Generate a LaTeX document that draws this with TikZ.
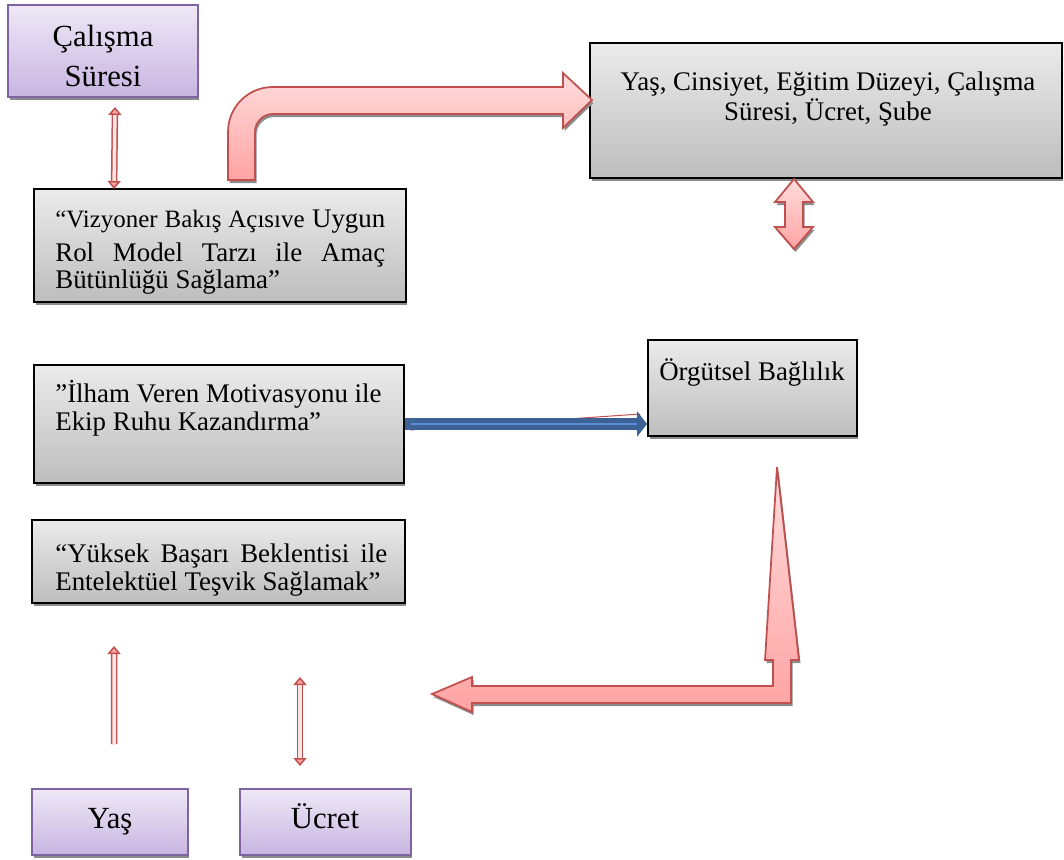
\documentclass[tikz,border=0pt]{standalone}
\usepackage{fontspec}
\setmainfont{Liberation Serif}
\usetikzlibrary{shadows,calc,arrows.meta}
\definecolor{arrowRed}{HTML}{C0504D}
\definecolor{pinkTop}{HTML}{FFDCDC}
\definecolor{pinkBot}{HTML}{FFA3A3}
\definecolor{pinkIn}{HTML}{FFE4E4}
\definecolor{grayTop}{HTML}{EBEBEB}
\definecolor{grayBot}{HTML}{BDBDBD}
\definecolor{purpleTop}{HTML}{EEE8F6}
\definecolor{purpleBot}{HTML}{C8B5E1}
\definecolor{purpleLine}{HTML}{8064A2}
\definecolor{shadowGray}{HTML}{8C8C8C}
\definecolor{blueFill}{HTML}{3D6396}
\definecolor{blueMid}{HTML}{5B8BD0}
\begin{document}
\begin{tikzpicture}[x=0.02cm,y=-0.02cm,
  shadowed/.style={drop shadow={shadow xshift=0.03cm, shadow yshift=-0.06cm, fill=shadowGray, opacity=1}},
  graybox/.style={rectangle, draw=black, line width=0.04cm, top color=grayTop, bottom color=grayBot, shadowed, inner sep=0pt},
  purplebox/.style={rectangle, draw=purpleLine, line width=0.04cm, top color=purpleTop, bottom color=purpleBot, shadowed, inner sep=0pt},
  txt/.style={inner sep=0pt, font=\fontsize{15.3}{18}\selectfont},
  bigtxt/.style={inner sep=0pt, font=\fontsize{17.5}{21}\selectfont, anchor=base},
  fatred/.style={draw=arrowRed, line width=0.035cm, line join=miter, top color=pinkTop, bottom color=pinkBot, shadowed},
  thinarrow/.style={draw=arrowRed, line width=0.03cm, double=pinkIn, double distance=0.07cm},
  thinhead/.tip={Triangle[length=0.16cm, width=0.26cm, fill=pinkBot, line width=0.03cm]},
  bluearrow/.style={draw=blueFill, line width=0.24cm, -{Triangle[length=0.2cm, width=0.5cm]}}
]
\useasboundingbox (0,0) rectangle (1064,859);

% ---------- boxes ----------
\node[purplebox, minimum width=3.8cm, minimum height=1.84cm] (cal) at (103,51) {};
\node[graybox, minimum width=9.44cm, minimum height=2.7cm] (dem) at (826,110.5) {};
\node[graybox, minimum width=7.44cm, minimum height=2.26cm] (viz) at (220,245.5) {};
\node[graybox, minimum width=7.4cm, minimum height=2.36cm] (ilh) at (219,424) {};
\node[graybox, minimum width=7.46cm, minimum height=1.66cm] (yuk) at (218.5,561.5) {};
\node[graybox, minimum width=4.18cm, minimum height=1.92cm] (org) at (752.5,388) {};
\node[purplebox, minimum width=3.12cm, minimum height=1.32cm] (yas) at (110,822) {};
\node[purplebox, minimum width=3.42cm, minimum height=1.32cm] (ucr) at (325.5,822) {};

% ---------- texts ----------
\node[bigtxt] (calA) at (103,46) {Çalışma};
\node[bigtxt] (calB) at (103,86) {Süresi};
\node[txt, anchor=base] (demA) at (828,90) {Yaş, Cinsiyet, Eğitim Düzeyi, Çalışma};
\node[txt, anchor=base] (demB) at (828,120) {Süresi, Ücret, Şube};
\node[txt, anchor=base west] (vizA) at (55,227) {\makebox[6.6cm][s]{{\fontsize{14.2}{16}\selectfont “Vizyoner Bakış Açısıve} Uygun}};
\node[txt, anchor=base west] (vizB) at (55,261) {\makebox[6.6cm][s]{Rol Model Tarzı ile Amaç}};
\node[txt, anchor=base west] (vizC) at (55,288) {Bütünlüğü Sağlama”};
\node[txt, anchor=base west] (ilhA) at (55,402) {”İlham Veren Motivasyonu ile};
\node[txt, anchor=base west] (ilhB) at (55,430) {Ekip Ruhu Kazandırma”};
\node[txt, anchor=base west] (yukA) at (55,562) {\makebox[6.64cm][s]{“Yüksek Başarı Beklentisi ile}};
\node[txt, anchor=base west] (yukB) at (55,590) {Entelektüel Teşvik Sağlamak”};
\node[txt, anchor=base] (orgA) at (752,380) {Örgütsel Bağlılık};
\node[bigtxt] (yasA) at (110,828) {Yaş};
\node[bigtxt] (ucrA) at (325,828) {Ücret};

% ---------- thin double-line arrows ----------
\coordinate (t1a) at ($(cal.south)+(12,9)$);
\coordinate (t1b) at ($(viz.north west)+(81,1)$);
\draw[thinarrow, thinhead-thinhead] (t1a) -- (t1b);
\coordinate (t2a) at ($(yas.north west)+(83,-44)$);
\coordinate (t2b) at ($(yuk.south west)+(83,42)$);
\draw[thinarrow, -thinhead] (t2a) -- (t2b);
\coordinate (t3a) at ($(ucr.north west)+(61,-22)$);
\coordinate (t3b) at ($(ucr.north west)+(61,-111)$);
\draw[thinarrow, thinhead-thinhead] (t3a) -- (t3b);

% ---------- bent arrow: top box to demographic box ----------
\path[fatred] (228,180) -- (228,132) .. controls (228,107) and (248,87) .. (273,87)
  -- (563,87) -- (563,73) -- (592,100) -- (563,128) -- (563,114) -- (273,114)
  .. controls (263,114) and (255,122) .. (255,132) -- (255,180) -- cycle;

% ---------- vertical double arrow under demographic box ----------
\path[fatred] (794,179) -- (813,202) -- (803,202) -- (803,227) -- (813,227) -- (794,249)
  -- (775,227) -- (785,227) -- (785,202) -- (775,202) -- cycle;

% ---------- L-shaped arrow from Orgutsel Baglilik ----------
\path[fatred] (777,467) -- (799,660) -- (791,660) -- (791,703) -- (472,703) -- (472,712)
  -- (432,694) -- (472,677) -- (472,686) -- (773,686) -- (773,660) -- (765,660) -- cycle;

% ---------- blue arrow ----------
\draw[arrowRed, line width=0.02cm] (410,430) -- (640,414);
\draw[bluearrow] (ilh.east) -- (org.west |- ilh.east);
\draw[blueMid, line width=0.03cm] ($(ilh.east)+(6,0)$) -- ($(org.west |- ilh.east)+(-10,0)$);
\end{tikzpicture}
\end{document}
